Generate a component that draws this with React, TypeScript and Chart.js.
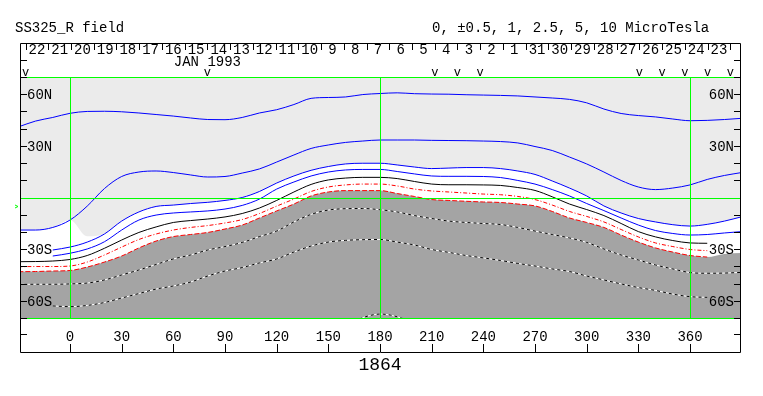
import React, { useEffect, useRef } from "react";
import { Chart, registerables } from "chart.js";

Chart.register(...registerables);

// Carrington longitude grid (degrees)
const LON = [-30, -20, -10, 0, 10, 20, 30, 40, 50, 60, 70, 80, 90, 100, 110, 120, 130, 140, 150, 160, 170, 180, 190, 200, 210, 220, 230, 240, 250, 260, 270, 280, 290, 300, 310, 320, 330, 340, 350, 360, 370, 380, 390];

// contour latitudes (degrees)
const B1 = [41.0, 44.4, 46.5, 48.9, 50.0, 50.1, 49.8, 49.1, 48.2, 47.3, 46.2, 45.3, 45.2, 46.5, 49.1, 51.0, 54.0, 57.6, 58.1, 58.4, 59.8, 60.4, 60.8, 60.3, 60.1, 60.0, 59.7, 59.5, 59.3, 59.0, 58.4, 57.8, 57.0, 55.0, 51.4, 48.8, 47.6, 46.8, 45.6, 44.6, 44.8, 45.3, 46.0];
const B2 = [-18.9, -18.9, -17.4, -13.1, -5.0, 5.2, 12.2, 14.8, 15.4, 14.5, 13.1, 11.9, 12.2, 14.2, 16.6, 20.6, 24.7, 28.5, 30.5, 32.0, 32.8, 33.4, 33.4, 33.4, 33.2, 33.1, 33.0, 32.8, 32.5, 31.7, 29.6, 27.3, 23.5, 19.5, 14.8, 9.9, 6.1, 4.6, 5.5, 7.3, 10.5, 12.8, 14.5];
const B3 = [null, null, -30.5, -28.8, -25.9, -21.2, -13.7, -8.4, -5.2, -4.4, -3.5, -2.8, -1.7, 0.0, 3.5, 8.4, 12.5, 15.8, 18.0, 19.5, 19.9, 19.9, 18.9, 17.7, 16.8, 17.1, 17.4, 17.4, 16.8, 15.4, 13.4, 9.6, 5.5, 0.9, -4.9, -9.0, -12.2, -14.2, -15.8, -16.6, -15.6, -13.7, -11.2];
const B4 = [null, null, -34.0, -32.4, -29.9, -25.7, -18.9, -13.1, -10.2, -9.0, -8.4, -7.8, -6.7, -4.6, -0.9, 4.9, 9.0, 12.5, 14.8, 16.0, 16.3, 16.3, 15.1, 13.7, 12.5, 12.3, 12.3, 12.2, 11.6, 9.9, 7.8, 4.6, 0.9, -3.5, -7.6, -11.9, -16.0, -19.2, -20.9, -21.8, -21.5, -20.6, -19.8];
const K0 = [-37.3, -37.2, -36.9, -36.0, -33.7, -29.5, -24.7, -20.3, -17.1, -14.5, -13.4, -12.5, -11.3, -9.3, -6.1, -1.7, 3.2, 7.6, 10.2, 11.3, 11.7, 11.7, 11.0, 9.3, 7.8, 7.4, 7.4, 7.3, 7.0, 5.8, 4.1, 0.4, -3.8, -7.0, -10.5, -15.1, -19.8, -22.9, -25.0, -26.4, -26.6, null, null];
const R1 = [-40.2, -40.1, -40.1, -39.8, -37.5, -33.4, -28.8, -24.4, -21.2, -18.9, -17.4, -16.3, -14.8, -12.8, -9.3, -5.0, -0.9, 3.5, 6.1, 7.3, 7.8, 7.8, 6.7, 4.9, 3.8, 3.2, 2.6, 2.0, 1.6, 0.6, -1.2, -4.4, -8.1, -11.0, -14.2, -18.6, -22.9, -26.4, -28.5, -30.2, -30.9, null, null];
const R2 = [-43.1, -43.0, -42.7, -42.4, -40.4, -37.5, -34.0, -29.3, -25.3, -22.7, -21.5, -20.3, -18.3, -16.0, -11.9, -7.8, -3.8, 0.9, 3.2, 4.0, 4.0, 4.0, 2.3, 0.6, -1.2, -1.7, -2.2, -2.6, -2.9, -3.8, -4.9, -8.1, -11.9, -14.5, -17.4, -21.8, -25.9, -29.3, -31.7, -33.7, -34.6, null, null];
const GRAY_TOP = [-43.1, -43.0, -42.7, -42.4, -40.4, -37.5, -34.0, -29.3, -25.3, -22.7, -21.5, -20.3, -18.3, -16.0, -11.9, -7.8, -3.8, 0.9, 3.2, 4.0, 4.0, 4.0, 2.3, 0.6, -1.2, -1.7, -2.2, -2.6, -2.9, -3.8, -4.9, -8.1, -11.9, -14.5, -17.4, -21.8, -25.9, -29.3, -31.7, -33.7, -34.6, -32.8, -32.2];
const WHITE_TOP = [-18.9, -18.9, -17.4, -13.1, -22.5, -21.2, -13.7, -8.4, -5.2, -4.4, -3.5, -2.8, -1.7, 0.0, 3.5, 8.4, 12.5, 15.8, 18.0, 19.5, 19.9, 19.9, 18.9, 17.7, 16.8, 17.1, 17.4, 17.4, 16.8, 15.4, 13.4, 9.6, 5.5, 0.9, -4.9, -9.0, -12.2, -14.2, -15.8, -16.6, -15.6, -13.7, -11.2];
const D1 = [-50.5, -50.4, -50.4, -50.2, -49.7, -47.9, -45.0, -42.1, -38.9, -35.7, -33.4, -30.5, -28.5, -26.1, -22.7, -19.5, -14.2, -9.8, -7.3, -6.5, -6.4, -7.1, -8.4, -10.5, -12.2, -13.7, -14.5, -15.1, -15.7, -17.4, -19.5, -21.5, -23.5, -26.1, -29.9, -33.4, -36.3, -39.2, -41.5, -43.6, -44.0, -43.9, -43.5];
const D2 = [null, null, -63.0, -63.4, -62.7, -61.0, -58.4, -55.8, -53.2, -51.4, -49.1, -45.6, -42.7, -40.7, -38.0, -35.7, -31.7, -28.2, -25.9, -24.9, -24.5, -24.4, -25.9, -27.6, -30.2, -31.9, -33.7, -35.1, -36.6, -38.3, -39.8, -41.5, -43.0, -45.6, -47.9, -50.2, -52.3, -54.0, -56.1, -57.6, -58.0, null, null];
const BUMP_LON = [168, 174, 180, 186, 194];
const BUMP_LAT = [-70.5, -68.6, -67.7, -68.3, -70.5];

// axes
const X_TICKS = [0, 30, 60, 90, 120, 150, 180, 210, 240, 270, 300, 330, 360];
const LAT_TICKS = [-70, -60, -50, -40, -30, -20, -10, 0, 10, 20, 30, 40, 50, 60, 70];
const LAT_LABELS: Record<string, string> = { "60": "60N", "30": "30N", "-30": "30S", "-60": "60S" };
const GREEN_LON = [0, 180, 360];
const GREEN_LAT = [70, 0, -70];
const DAY_LABELS = [22, 21, 20, 19, 18, 17, 16, 15, 14, 13, 12, 11, 10, 9, 8, 7, 6, 5, 4, 3, 2, 1, 31, 30, 29, 28, 27, 26, 25, 24, 23];
const FIRST_DAY_TICK_LON = -25.8;
const DAYS_PER_ROTATION = 27.2753;
const MARK_TICKS = [0, 8, 18, 19, 20, 27, 28, 29, 30, 31];
const MONTH_TICK = 8;
const TITLE = "SS325_R field";
const LEGEND = "0, \u00b10.5, 1, 2.5, 5, 10 MicroTesla";
const ROTATION = "1864";

const MONO = "'Liberation Mono', 'DejaVu Sans Mono', monospace";
const LIGHT = "#ebebeb";
const DARK = "#a4a4a4";
const GREEN = "#00ff00";

const pts = (lat: (number | null)[]) => LON.map((x, i) => ({ x, y: lat[i] }));

const line = (data: any, color: string, dash: number[] = [], extra: any = {}) => ({
  data,
  borderColor: color,
  borderWidth: 1,
  borderDash: dash,
  pointRadius: 0,
  fill: false,
  cubicInterpolationMode: "monotone",
  ...extra,
});

const area = (data: any, color: string) => ({
  data,
  borderColor: "rgba(0,0,0,0)",
  borderWidth: 0,
  backgroundColor: color,
  pointRadius: 0,
  fill: "start",
  cubicInterpolationMode: "monotone",
});

const deco = {
  id: "deco",
  beforeDatasetsDraw(chart: any) {
    const { ctx, chartArea: a } = chart;
    ctx.save();
    ctx.fillStyle = LIGHT;
    ctx.fillRect(a.left, a.top, a.right - a.left, a.bottom - a.top);
    ctx.restore();
  },
  afterDatasetsDraw(chart: any) {
    const { ctx, chartArea: a } = chart;
    const xs = chart.scales.x;
    const ys = chart.scales.y;
    const px = (v: number) => Math.round(xs.getPixelForValue(v)) + 0.5;
    const py = (v: number) => Math.round(ys.getPixelForValue(v)) + 0.5;
    const L = a.left;
    const R = a.right;
    const T = 43;
    const B = 352;
    const step = 360 / DAYS_PER_ROTATION;
    ctx.save();
    ctx.lineWidth = 1;

    // green grid
    ctx.strokeStyle = GREEN;
    ctx.beginPath();
    for (const g of GREEN_LON) {
      ctx.moveTo(px(g), a.top);
      ctx.lineTo(px(g), a.bottom);
    }
    for (const g of GREEN_LAT) {
      ctx.moveTo(L, py(g));
      ctx.lineTo(R, py(g));
    }
    ctx.moveTo(15, 205);
    ctx.lineTo(18, 206.5);
    ctx.lineTo(15, 208);
    ctx.stroke();

    // frame and ticks
    ctx.strokeStyle = "#000";
    ctx.beginPath();
    ctx.rect(L + 0.5, T + 0.5, R - L - 1, B - T);
    for (const t of LAT_TICKS) {
      if (t === 0) continue;
      const y = py(t);
      ctx.moveTo(L, y);
      ctx.lineTo(L + 7, y);
      ctx.moveTo(R - 7, y);
      ctx.lineTo(R, y);
    }
    for (const y of [60.5, 334.5]) {
      ctx.moveTo(L, y);
      ctx.lineTo(L + 7, y);
      ctx.moveTo(R - 7, y);
      ctx.lineTo(R, y);
    }
    for (const v of X_TICKS) {
      ctx.moveTo(px(v), 344);
      ctx.lineTo(px(v), B);
    }
    for (let k = 0; k <= DAY_LABELS.length; k++) {
      const x = px(FIRST_DAY_TICK_LON + k * step);
      ctx.moveTo(x, 44);
      ctx.lineTo(x, 50);
    }
    ctx.stroke();

    // texts
    ctx.fillStyle = "#000";
    ctx.font = `14px ${MONO}`;
    ctx.textBaseline = "alphabetic";
    ctx.textAlign = "left";
    ctx.fillText(TITLE, 15, 32);
    ctx.fillText(LEGEND, 432, 32);

    for (const t of LAT_TICKS) {
      const lab = LAT_LABELS[String(t)];
      if (!lab) continue;
      const y = ys.getPixelForValue(t) + 4.8;
      ctx.textAlign = "left";
      ctx.fillText(lab, L + 7, y);
      ctx.textAlign = "right";
      ctx.fillText(lab, R - 7, y);
    }

    ctx.textAlign = "center";
    for (const v of X_TICKS) ctx.fillText(String(v), xs.getPixelForValue(v), 341);

    DAY_LABELS.forEach((d, i) => {
      ctx.fillText(String(d), xs.getPixelForValue(FIRST_DAY_TICK_LON + (i + 0.5) * step), 54);
    });
    ctx.fillText("JAN 1993", xs.getPixelForValue(FIRST_DAY_TICK_LON + MONTH_TICK * step), 66);

    ctx.font = `12px ${MONO}`;
    for (const k of MARK_TICKS) {
      ctx.fillText("v", xs.getPixelForValue(FIRST_DAY_TICK_LON + k * step), 76);
    }

    ctx.font = `18px ${MONO}`;
    ctx.fillText(ROTATION, xs.getPixelForValue(180), 370);
    ctx.restore();
  },
};

export default function App() {
  const ref = useRef<HTMLCanvasElement>(null);
  useEffect(() => {
    const canvas = ref.current;
    if (!canvas) return;
    const bump = BUMP_LON.map((x, i) => ({ x, y: BUMP_LAT[i] }));
    const datasets: any[] = [
      line(bump, "#000000", [3, 3]),
      line(pts(B1), "#0000ff"),
      line(pts(B2), "#0000ff"),
      line(pts(B3), "#0000ff"),
      line(pts(B4), "#0000ff"),
      line(pts(K0), "#000000"),
      line(pts(R1), "#ff0000", [4, 2, 1, 2]),
      line(pts(R2), "#ff0000", [5, 2]),
      line(pts(D1), "#000000", [3, 3]),
      line(pts(D1), "#ffffff"),
      line(pts(D2), "#000000", [3, 3]),
      line(pts(D2), "#ffffff"),
      line(bump, "#ffffff"),
      area(pts(GRAY_TOP), DARK),
      area(pts(WHITE_TOP), "#ffffff"),
    ];
    const chart = new Chart(canvas, {
      type: "line",
      data: { datasets },
      options: {
        responsive: false,
        animation: false,
        devicePixelRatio: 1,
        events: [],
        layout: { padding: { left: 20, right: 22, top: 77, bottom: 78 } },
        scales: {
          x: { type: "linear", min: -29.03, max: 389.6, display: false },
          y: { type: "linear", min: -70, max: 70, display: false },
        },
        plugins: { legend: { display: false }, tooltip: { enabled: false } },
      } as any,
      plugins: [deco],
    });
    return () => chart.destroy();
  }, []);
  return (
    <div style={{ position: "absolute", left: 0, top: 0, width: 763, height: 396, background: "#fff" }}>
      <canvas ref={ref} width={763} height={396} style={{ display: "block", width: 763, height: 396 }} />
    </div>
  );
}
